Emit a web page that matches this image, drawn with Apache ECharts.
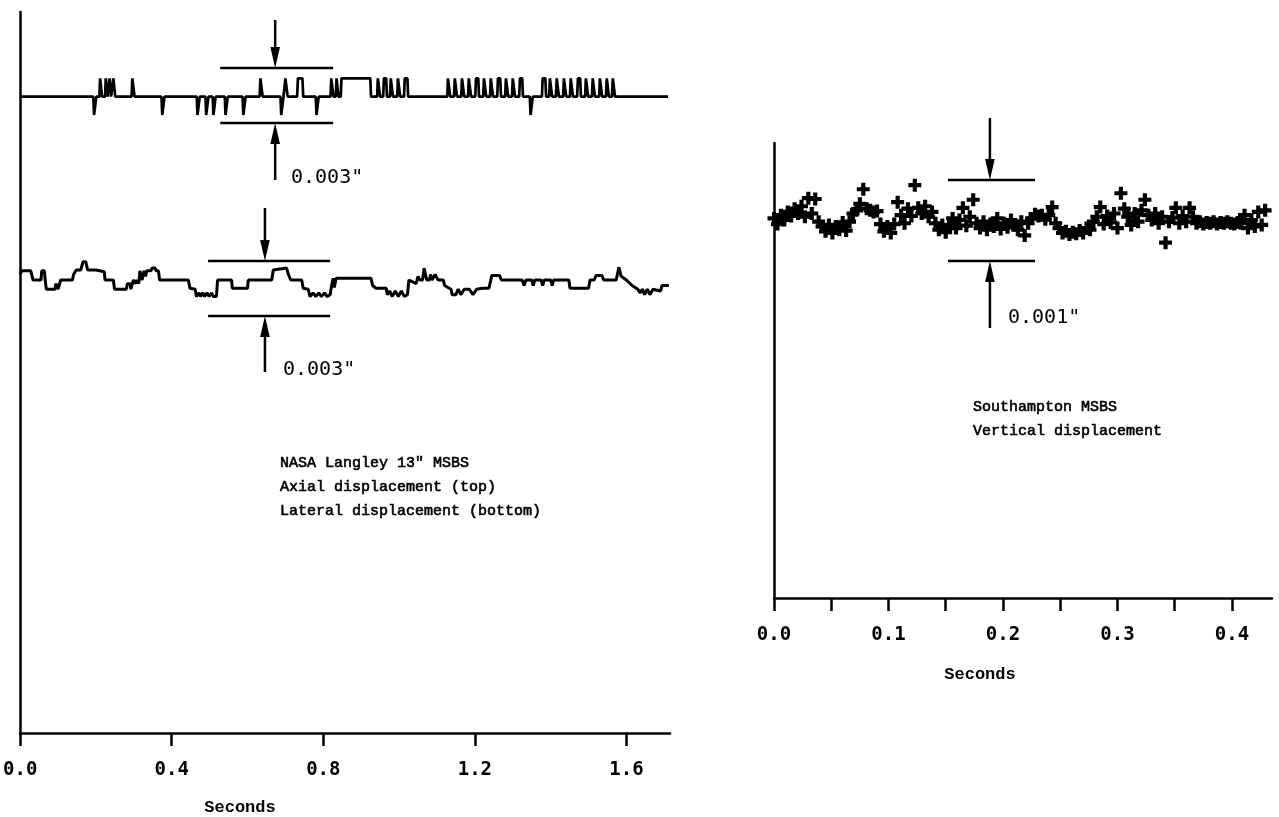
<!DOCTYPE html>
<html><head><meta charset="utf-8">
<script src="https://cdn.jsdelivr.net/npm/echarts@6/dist/echarts.min.js"></script>
<style>html,body{margin:0;padding:0;background:#fff}#c{width:1279px;height:817px}</style>
</head><body><div id="c"></div>
<script>
// ================= DATA =================
// Left chart (NASA Langley 13" MSBS), time in seconds, displacement in thousandths of an inch
const leftTicks = [0, 0.4, 0.8, 1.2, 1.6];
const leftTickLabels = ['0.0', '0.4', '0.8', '1.2', '1.6'];
// Axial displacement: pulses away from the rest level [start s, end s, level mils]
const axialPulses = [
  [0.193,0.201,-1],[0.209,0.216,1],[0.224,0.231,1],[0.234,0.240,1],[0.244,0.251,1],[0.294,0.302,1],
  [0.373,0.381,-1],[0.466,0.474,-1],[0.489,0.497,-1],[0.508,0.516,-1],[0.540,0.548,-1],[0.587,0.595,-1],
  [0.632,0.640,1],[0.687,0.695,-1],[0.698,0.706,1],[0.731,0.747,1],[0.780,0.788,-1],[0.819,0.827,1],
  [0.833,0.840,1],[0.846,0.926,1],
  [0.942,0.950,1],[0.958,0.968,1],[0.976,0.984,1],[0.995,1.003,1],[1.013,1.024,1],
  [1.127,1.135,1],[1.145,1.153,1],[1.164,1.172,1],[1.182,1.190,1],[1.201,1.211,1],[1.222,1.230,1],
  [1.240,1.248,1],[1.259,1.269,1],[1.280,1.288,1],[1.298,1.306,1],[1.317,1.327,1],
  [1.345,1.353,-1],
  [1.377,1.388,1],[1.396,1.404,1],[1.414,1.422,1],[1.433,1.441,1],[1.451,1.459,1],[1.470,1.480,1],
  [1.491,1.499,1],[1.509,1.517,1],[1.528,1.536,1],[1.546,1.554,1],[1.562,1.570,1]
];
const axialEnd = 1.710;
// Lateral displacement trace [time s, mils]
const lateralTrace = [
  [0.000,0.3],[0.004,0.5],[0.011,0.5],[0.014,0.6],[0.020,0.5],[0.025,0.6],[0.028,0.5],[0.032,0.5],[0.034,0],
  [0.055,0],[0.057,0.5],[0.064,0.5],[0.066,0],[0.069,-0.5],[0.092,-0.5],[0.094,-0.2],[0.098,-0.2],[0.100,-0.5],
  [0.105,-0.5],[0.107,0],[0.138,0],[0.141,0.3],[0.145,0.3],[0.148,0.55],[0.160,0.55],[0.166,1.0],[0.173,1.0],
  [0.178,0.55],[0.200,0.55],[0.204,0.45],[0.222,0.45],[0.224,0],[0.246,0],[0.249,-0.5],[0.280,-0.5],[0.283,-0.2],
  [0.290,-0.2],[0.292,-0.5],[0.296,-0.5],[0.299,0],[0.304,-0.2],[0.308,0],[0.313,-0.2],[0.316,0.5],[0.320,0.5],
  [0.322,0],[0.327,0.5],[0.331,0.2],[0.334,0.5],[0.345,0.5],[0.348,0.65],[0.356,0.65],[0.359,0.5],[0.365,0.5],
  [0.368,0],[0.444,0],[0.448,-0.45],[0.462,-0.5],[0.465,-0.9],[0.472,-0.7],[0.476,-0.9],[0.482,-0.7],[0.487,-0.9],
  [0.493,-0.7],[0.499,-0.9],[0.505,-0.7],[0.510,-0.9],[0.518,-0.9],[0.521,0],[0.558,0],[0.560,-0.45],[0.600,-0.45],
  [0.602,0],[0.664,0],[0.668,0.55],[0.672,0.65],[0.703,0.65],[0.708,0.3],[0.714,0],[0.743,0],[0.747,-0.45],
  [0.760,-0.5],[0.765,-0.9],[0.773,-0.7],[0.780,-0.9],[0.788,-0.7],[0.795,-0.9],[0.803,-0.7],[0.810,-0.9],
  [0.818,-0.8],[0.822,-0.3],[0.826,0.1],[0.829,-0.4],[0.834,0.1],[0.926,0.1],[0.930,-0.3],[0.939,-0.45],
  [0.966,-0.45],[0.969,-0.8],[0.975,-0.6],[0.982,-0.9],[0.990,-0.6],[0.998,-0.9],[1.006,-0.6],[1.014,-0.9],
  [1.022,-0.8],[1.026,0],[1.045,-0.2],[1.050,0.2],[1.055,0],[1.062,0],[1.066,0.65],[1.070,0.65],[1.073,0],
  [1.080,0],[1.083,0.3],[1.087,0],[1.095,0.3],[1.100,0.3],[1.103,0],[1.117,0],[1.120,-0.3],[1.137,-0.5],
  [1.140,-0.8],[1.150,-0.8],[1.156,-0.5],[1.163,-0.8],[1.172,-0.5],[1.185,-0.5],[1.195,-0.8],[1.205,-0.5],
  [1.219,-0.45],[1.237,-0.45],[1.245,0.25],[1.265,0.25],[1.270,0],[1.325,0],[1.330,-0.3],[1.335,0],[1.350,0],
  [1.354,-0.3],[1.358,0],[1.375,0],[1.379,-0.3],[1.383,0],[1.400,0],[1.404,-0.3],[1.408,0],[1.448,0],
  [1.451,-0.45],[1.500,-0.45],[1.504,0],[1.515,0],[1.520,0.25],[1.535,0.25],[1.540,0],[1.573,0],[1.580,0.7],
  [1.586,0.2],[1.600,0],[1.615,-0.3],[1.630,-0.5],[1.636,-0.7],[1.642,-0.5],[1.648,-0.8],[1.655,-0.5],
  [1.662,-0.8],[1.670,-0.5],[1.690,-0.6],[1.694,-0.3],[1.712,-0.3]
];

// Right chart (Southampton MSBS), time s, vertical displacement in thousandths of an inch
const rightTicks = [0, 0.05, 0.1, 0.15, 0.2, 0.25, 0.3, 0.35, 0.4];
const rightLabelTicks = [0, 0.1, 0.2, 0.3, 0.4];
const rightTickLabels = ['0.0', '0.1', '0.2', '0.3', '0.4'];
const verticalPoints = [
  [0.000,0.02],[0.003,-0.05],[0.006,0.06],[0.009,0.00],[0.012,0.10],[0.015,0.05],[0.018,0.14],[0.021,0.08],
  [0.024,0.17],[0.027,0.04],[0.030,0.27],[0.033,0.08],[0.036,0.26],[0.039,-0.02],[0.042,-0.08],[0.045,-0.14],
  [0.048,-0.06],[0.051,-0.16],[0.054,-0.08],[0.057,-0.12],[0.060,-0.03],[0.063,-0.13],[0.066,-0.02],[0.069,0.08],
  [0.072,0.12],[0.075,0.20],[0.078,0.38],[0.081,0.14],[0.084,0.12],[0.087,0.10],[0.090,0.11],[0.093,-0.05],
  [0.096,-0.14],[0.099,-0.08],[0.102,-0.16],[0.105,-0.05],[0.108,0.22],[0.111,0.06],[0.114,-0.04],[0.117,0.14],
  [0.120,0.05],[0.123,0.43],[0.126,0.15],[0.129,0.08],[0.132,0.17],[0.135,0.04],[0.138,0.10],[0.141,-0.04],
  [0.144,-0.12],[0.147,-0.06],[0.150,-0.15],[0.153,-0.08],[0.156,0.02],[0.159,-0.10],[0.162,0.00],[0.165,0.15],
  [0.168,-0.07],[0.171,0.04],[0.174,0.25],[0.177,-0.04],[0.180,-0.10],[0.183,-0.02],[0.186,-0.12],[0.189,-0.05],
  [0.192,-0.08],[0.195,0.02],[0.198,-0.11],[0.201,-0.04],[0.204,-0.09],[0.207,0.00],[0.210,-0.06],[0.213,-0.12],
  [0.216,-0.02],[0.219,-0.19],[0.222,-0.04],[0.225,0.02],[0.228,0.07],[0.231,0.05],[0.234,0.06],[0.237,0.01],
  [0.240,0.06],[0.243,0.16],[0.246,-0.04],[0.249,-0.10],[0.252,-0.16],[0.255,-0.14],[0.258,-0.18],[0.261,-0.15],
  [0.264,-0.17],[0.267,-0.13],[0.270,-0.16],[0.273,-0.10],[0.276,-0.12],[0.279,-0.02],[0.282,0.04],[0.285,0.16],
  [0.288,-0.05],[0.291,0.05],[0.294,-0.03],[0.297,0.08],[0.300,-0.10],[0.303,0.33],[0.306,0.14],[0.309,0.04],
  [0.312,-0.06],[0.315,0.08],[0.318,-0.02],[0.321,0.12],[0.324,0.25],[0.327,0.06],[0.330,0.00],[0.333,0.08],
  [0.336,-0.04],[0.339,0.04],[0.342,-0.28],[0.345,-0.02],[0.348,0.03],[0.351,0.15],[0.354,-0.04],[0.357,0.05],
  [0.360,-0.02],[0.363,0.15],[0.366,0.04],[0.369,-0.04],[0.372,-0.02],[0.375,-0.05],[0.378,-0.03],[0.381,-0.04],
  [0.384,-0.02],[0.387,-0.05],[0.390,-0.03],[0.393,-0.04],[0.396,-0.02],[0.399,-0.04],[0.402,-0.05],[0.405,-0.03],
  [0.408,-0.04],[0.411,0.06],[0.414,-0.10],[0.417,0.00],[0.420,-0.08],[0.423,0.10],[0.426,-0.06],[0.429,0.12]
];

// Scale bars (value in mils)
const leftScaleBar = 3;   // 0.003"
const rightScaleBar = 1;  // 0.001"

// ================= LAYOUT / STYLE =================
const axialOffset = 10; // display offset of axial trace above lateral trace (mils)
const FONT_NUM = 'DejaVu Sans Mono';
const FONT_TXT = 'Liberation Mono';
const BLACK = '#000';

function pulsesToLine(pulses, tEnd, offset) {
  const pts = [[0, offset]];
  pulses.forEach(([s, e, L]) => {
    pts.push([s, offset], [s + 0.002, offset + L], [e - 0.002, offset + L], [e, offset]);
  });
  pts.push([tEnd, offset]);
  return pts;
}

const chart = echarts.init(document.getElementById('c'), null, {renderer: 'canvas'});

function xAxisCfg(gi, max, ticks, labelTicks, labels) {
  return {
    gridIndex: gi, type: 'value', min: 0, max: max,
    axisLine: {show: true, onZero: false, lineStyle: {color: BLACK, width: 2.5}},
    axisTick: {show: true, inside: false, length: 13, customValues: ticks, lineStyle: {color: BLACK, width: 2.5}},
    axisLabel: {
      show: true, customValues: labelTicks, color: BLACK, fontFamily: FONT_NUM, fontSize: 19, fontWeight: 'bold', margin: 28,
      formatter: v => { const i = labelTicks.findIndex(x => Math.abs(x - v) < 1e-9); return i >= 0 ? labels[i] : ''; }
    },
    splitLine: {show: false}
  };
}
function yAxisCfg(gi, min, max) {
  return {
    gridIndex: gi, type: 'value', min: min, max: max,
    axisLine: {show: true, onZero: false, lineStyle: {color: BLACK, width: 2.5}},
    axisTick: {show: false}, axisLabel: {show: false}, splitLine: {show: false}
  };
}

const plusPath = 'path://M3.4,0H6.6V3.4H10V6.6H6.6V10H3.4V6.6H0V3.4H3.4Z';

chart.setOption({
  animation: false,
  backgroundColor: '#fff',
  grid: [
    {left: 20, top: 12, width: 650, height: 721},
    {left: 774, top: 143, width: 498, height: 455}
  ],
  xAxis: [
    xAxisCfg(0, 1.715, leftTicks, leftTicks, leftTickLabels),
    xAxisCfg(1, 0.435, rightTicks, rightLabelTicks, rightTickLabels)
  ],
  yAxis: [
    yAxisCfg(0, -24.71, 14.62),
    yAxisCfg(1, -4.667, 0.951)
  ],
  series: [
    {
      name: 'Axial displacement', type: 'line', xAxisIndex: 0, yAxisIndex: 0,
      data: pulsesToLine(axialPulses, axialEnd, axialOffset),
      showSymbol: false, symbol: 'none', lineStyle: {color: BLACK, width: 2.7}, silent: true
    },
    {
      name: 'Lateral displacement', type: 'line', xAxisIndex: 0, yAxisIndex: 0,
      data: lateralTrace,
      showSymbol: false, symbol: 'none', lineStyle: {color: BLACK, width: 3}, silent: true
    },
    {
      name: 'Vertical displacement', type: 'scatter', xAxisIndex: 1, yAxisIndex: 1,
      data: verticalPoints, symbol: plusPath, symbolSize: 13,
      itemStyle: {color: BLACK, opacity: 1}, silent: true
    }
  ]
});

// ---- annotations (scale bars and text) ----
const g = [];
function P(gi, t, v) { return chart.convertToPixel({gridIndex: gi}, [t, v]); }
function hline(gi, t0, t1, v) {
  const a = P(gi, t0, v), b = P(gi, t1, v);
  g.push({type: 'line', shape: {x1: a[0], y1: a[1], x2: b[0], y2: b[1]}, style: {stroke: BLACK, lineWidth: 2.5}});
}
function arrow(gi, t, vTail, vTip) {
  const a = P(gi, t, vTail), b = P(gi, t, vTip);
  const dir = Math.sign(b[1] - a[1]);
  const headLen = 21, headW = 4.8;
  const baseY = b[1] - dir * headLen;
  g.push({type: 'line', shape: {x1: a[0], y1: a[1], x2: a[0], y2: baseY}, style: {stroke: BLACK, lineWidth: 2.5}});
  g.push({type: 'polygon', shape: {points: [[b[0], b[1]], [b[0] - headW, baseY], [b[0] + headW, baseY]]}, style: {fill: BLACK}});
}
function scaleBar(gi, t0, t1, tArrow, center, size, tailAbove, tailBelow) {
  const hi = center + size / 2, lo = center - size / 2;
  hline(gi, t0, t1, hi);
  hline(gi, t0, t1, lo);
  arrow(gi, tArrow, hi + tailAbove, hi);
  arrow(gi, tArrow, lo - tailBelow, lo);
}
function txt(x, y, s, font, size, weight, align, strokeW) {
  const style = {text: s, fill: BLACK, font: (weight || 'normal') + ' ' + size + 'px "' + font + '"', textAlign: align || 'left', textVerticalAlign: 'middle'};
  if (strokeW) { style.stroke = BLACK; style.lineWidth = strokeW; }
  g.push({type: 'text', x: x, y: y, style: style});
}

scaleBar(0, 0.528, 0.826, 0.673, axialOffset + 0.07, leftScaleBar, 2.61, 3.11);
scaleBar(0, 0.496, 0.818, 0.646, -0.46, leftScaleBar, 2.89, 3.06);
scaleBar(1, 0.152, 0.228, 0.1886, -0.006, rightScaleBar, 0.765, 0.827);

txt(291, 178, '0.003"', FONT_NUM, 20);
txt(283, 370, '0.003"', FONT_NUM, 20);
txt(1008, 318, '0.001"', FONT_NUM, 20);

txt(280, 463, 'NASA Langley 13" MSBS', FONT_TXT, 15, 'normal', 'left', 0.6);
txt(280, 487, 'Axial displacement (top)', FONT_TXT, 15, 'normal', 'left', 0.6);
txt(280, 511, 'Lateral displacement (bottom)', FONT_TXT, 15, 'normal', 'left', 0.6);
txt(973, 407, 'Southampton MSBS', FONT_TXT, 15, 'normal', 'left', 0.6);
txt(973, 431, 'Vertical displacement', FONT_TXT, 15, 'normal', 'left', 0.6);

txt(240, 808, 'Seconds', FONT_TXT, 17, 'bold', 'center');
txt(980, 675, 'Seconds', FONT_TXT, 17, 'bold', 'center');

chart.setOption({graphic: {elements: g}});
</script>
</body></html>
